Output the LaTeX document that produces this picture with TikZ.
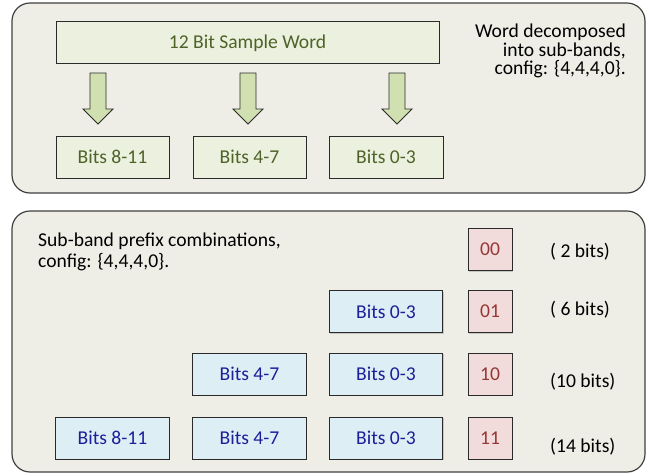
\documentclass[tikz,border=0pt]{standalone}
\usepackage{fontspec}
\setmainfont{Carlito}
\usetikzlibrary{shadows}
\definecolor{panelfill}{HTML}{EEEEE6}
\definecolor{panelborder}{HTML}{404040}
\definecolor{boxborder}{HTML}{2A2A2A}
\definecolor{greenfill}{HTML}{EBF1DE}
\definecolor{greentext}{HTML}{4F6228}
\definecolor{arrowfill}{HTML}{D1E0B0}
\definecolor{bluefill}{HTML}{DEEEF5}
\definecolor{bluetext}{HTML}{1E1E9A}
\definecolor{redfill}{HTML}{F2DCDB}
\definecolor{redtext}{HTML}{953735}
\begin{document}
\begin{tikzpicture}[x=1pt,y=-1pt,
  font=\fontsize{19.6pt}{21pt}\selectfont,
  panel/.style={draw=panelborder, fill=panelfill, line width=1.2pt, rounded corners=18pt},
  box/.style={draw=boxborder, line width=0.9pt, inner sep=0pt, text depth=0pt, minimum height=42pt,
    drop shadow={shadow xshift=1.2pt, shadow yshift=-1.2pt, opacity=0.35}},
  greenbox/.style={box, fill=greenfill, text=greentext},
  bluebox/.style={box, fill=bluefill, text=bluetext, minimum width=113.5pt},
  redbox/.style={box, fill=redfill, text=redtext, minimum width=44pt},
  blockarrow/.style={draw=boxborder, line width=0.9pt, fill=arrowfill, line join=miter},
  note/.style={inner sep=0pt, text=black}
]
\useasboundingbox (0,0) rectangle (649,475);

% ---------- top panel ----------
\draw[panel] (12,3) rectangle (645,193);

\node[greenbox, minimum width=383pt] (word) at (247.5,42) {12 Bit Sample Word};
\node[greenbox, minimum width=113pt] (g1) at (112.5,157) {Bits 8-11};
\node[greenbox, minimum width=113pt] (g2) at (249.5,157) {Bits 4-7};
\node[greenbox, minimum width=114pt] (g3) at (386,157) {Bits 0-3};

\foreach \n/\cx in {a1/98, a2/248, a3/397}{
  \coordinate (\n) at (\cx,73);
  \draw[blockarrow] (\n) -- ++(8,0) -- ++(0,36) -- ++(7,0) -- ++(-15,15)
    -- ++(-15,-15) -- ++(7,0) -- ++(0,-36) -- cycle;
}

\node[note, anchor=base east] (t1) at (626,37.7) {Word decomposed};
\node[note, anchor=base east] (t2) at (626,56) {into sub-bands,};
\node[note, anchor=base east] (t3) at (626,74.3) {config: \{4,4,4,0\}.};

% ---------- bottom panel ----------
\draw[panel] (12,211) rectangle (645,472);

\node[note, anchor=base west] (s1) at (38,246) {Sub-band prefix combinations,};
\node[note, anchor=base west] (s2) at (38,267.7) {config: \{4,4,4,0\}.};

\node[redbox] (r1) at (490,249.5) {00};
\node[redbox] (r2) at (490,311.5) {01};
\node[redbox] (r3) at (490,374) {10};
\node[redbox] (r4) at (490,438) {11};

\node[bluebox] (b21) at (386,311.5) {Bits 0-3};
\node[bluebox] (b31) at (249.5,374) {Bits 4-7};
\node[bluebox] (b32) at (386,374) {Bits 0-3};
\node[bluebox] (b41) at (112.5,438) {Bits 8-11};
\node[bluebox] (b42) at (249.5,438) {Bits 4-7};
\node[bluebox] (b43) at (386,438) {Bits 0-3};

\node[note, anchor=base west] (l1) at (550,257.3) {( 2 bits)};
\node[note, anchor=base west] (l2) at (550,315.7) {( 6 bits)};
\node[note, anchor=base west] (l3) at (550,387.3) {(10 bits)};
\node[note, anchor=base west] (l4) at (550,452.3) {(14 bits)};
\end{tikzpicture}
\end{document}
